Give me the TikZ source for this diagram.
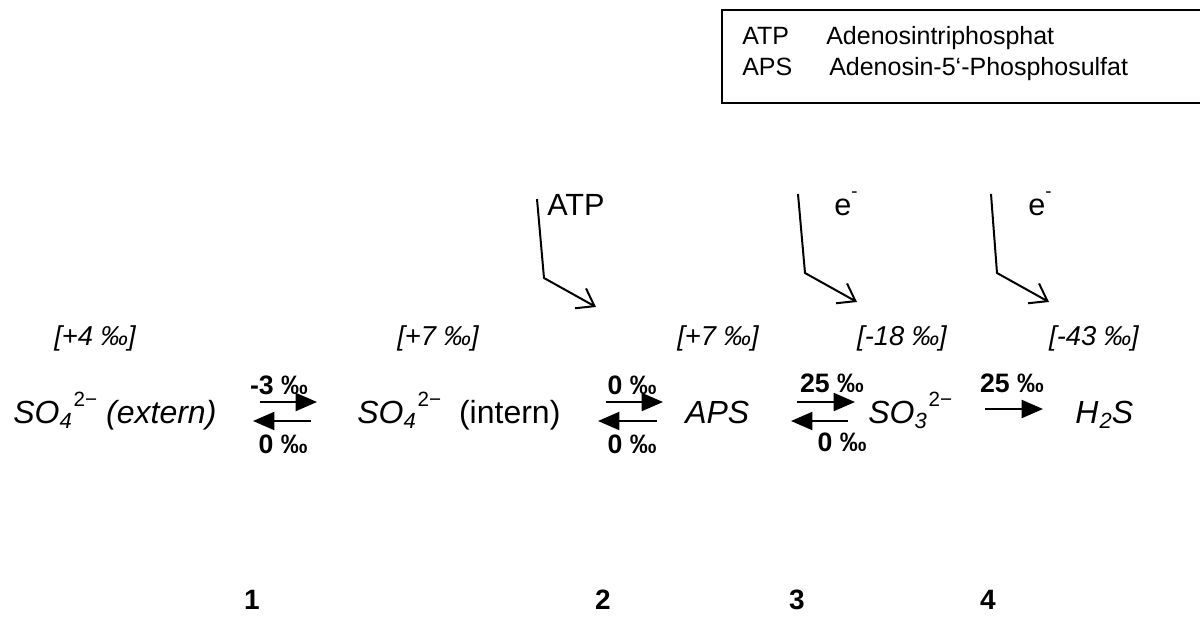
\documentclass[tikz,border=0pt]{standalone}
\usepackage{fontspec}
\setmainfont{Liberation Sans}
\usetikzlibrary{arrows.meta}
\newcommand\fsz[1]{\fontsize{#1}{#1}\selectfont}
\newcommand\chemion[3]{#1\raisebox{-3.8pt}{\fsz{16.5}#2}\hspace{1.5pt}\raisebox{12.5pt}{\fsz{15.5}\upshape #3}}
\begin{document}
\begin{tikzpicture}[x=0.75pt,y=-0.75pt,
  species/.style={anchor=base west,inner sep=0pt,font=\fsz{24}\itshape},
  iso/.style={anchor=base,inner sep=0pt,font=\fsz{20.5}\itshape},
  frac/.style={anchor=base,inner sep=0pt,font=\fsz{20}\bfseries},
  stepno/.style={anchor=base,inner sep=0pt,font=\fsz{21}\bfseries},
  cof/.style={anchor=base west,inner sep=0pt,font=\fsz{23}},
  legtext/.style={anchor=base west,inner sep=0pt,font=\fsz{18.75}},
  rxn/.style={line width=1.5pt,-{Triangle[length=16pt,width=13.5pt]}},
  feed/.style={line width=1.5pt,-{Straight Barb[length=12pt,width=17pt]}},
  legbox/.style={line width=1.5pt}]
\useasboundingbox (0,0) rectangle (1200,635);
% legend
\coordinate (lb1) at (1210,10);
\coordinate (lb2) at (722,10);
\coordinate (lb3) at (722,103);
\coordinate (lb4) at (1210,103);
\draw[legbox] (lb1) -- (lb2) -- (lb3) -- (lb4);
\node[legtext] (l1a) at (742,45) {ATP};
\node[legtext] (l1b) at (826,45) {Adenosintriphosphat};
\node[legtext] (l2a) at (742,75) {APS};
\node[legtext] (l2b) at (829,75) {Adenosin-5‘-Phosphosulfat};
% species
\node[species] (s1) at (13,423) {\chemion{SO}{4}{2−} (extern)};
\node[species] (s2) at (357,423) {\chemion{SO}{4}{2−}\upshape\ \ (intern)};
\node[species] (s3) at (685,423) {APS};
\node[species] (s4) at (868,423) {\chemion{SO}{3}{2−}};
\node[species] (s5) at (1075,423) {H\raisebox{-3.8pt}{\fsz{16.5}\hspace{1pt}2}S};
% isotope values
\node[iso] (i1) at (95,345) {[+4 ‰]};
\node[iso] (i2) at (438,345) {[+7 ‰]};
\node[iso] (i3) at (718,345) {[+7 ‰]};
\node[iso] (i4) at (902,345) {[-18 ‰]};
\node[iso] (i5) at (1094,345) {[-43 ‰]};
% reaction arrows
\coordinate (a1f0) at (260,402); \coordinate (a1f1) at (317,402);
\coordinate (a1b0) at (311,421); \coordinate (a1b1) at (253,421);
\coordinate (a2f0) at (606,402); \coordinate (a2f1) at (663,402);
\coordinate (a2b0) at (657,421); \coordinate (a2b1) at (598,421);
\coordinate (a3f0) at (797,402); \coordinate (a3f1) at (855,402);
\coordinate (a3b0) at (848,421); \coordinate (a3b1) at (791,421);
\coordinate (a4f0) at (985,409); \coordinate (a4f1) at (1043,409);
\draw[rxn] (a1f0) -- (a1f1);
\draw[rxn] (a1b0) -- (a1b1);
\draw[rxn] (a2f0) -- (a2f1);
\draw[rxn] (a2b0) -- (a2b1);
\draw[rxn] (a3f0) -- (a3f1);
\draw[rxn] (a3b0) -- (a3b1);
\draw[rxn] (a4f0) -- (a4f1);
% fractionation labels
\node[frac] (f1t) at (279,394) {-3 ‰};
\node[frac] (f1b) at (283,453) {0 ‰};
\node[frac] (f2t) at (632,394) {0 ‰};
\node[frac] (f2b) at (632,453) {0 ‰};
\node[frac] (f3t) at (832,392) {25 ‰};
\node[frac] (f3b) at (842,451) {0 ‰};
\node[frac] (f4t) at (1012,392) {25 ‰};
% cofactors
\node[cof] (atp) at (547,215) {ATP};
\node[cof] (e1) at (834,215) {e\raisebox{13pt}{\fsz{14}-}};
\node[cof] (e2) at (1028,215) {e\raisebox{13pt}{\fsz{14}-}};
\coordinate (b1a) at (537,199); \coordinate (b1b) at (544,278); \coordinate (b1c) at (596,307);
\coordinate (b2a) at (798,194); \coordinate (b2b) at (805,273); \coordinate (b2c) at (857,302);
\coordinate (b3a) at (991,194); \coordinate (b3b) at (997,273); \coordinate (b3c) at (1049,302);
\draw[feed] (b1a) -- (b1b) -- (b1c);
\draw[feed] (b2a) -- (b2b) -- (b2c);
\draw[feed] (b3a) -- (b3b) -- (b3c);
% step numbers
\node[stepno] (n1) at (252,609) {1};
\node[stepno] (n2) at (603,609) {2};
\node[stepno] (n3) at (797,609) {3};
\node[stepno] (n4) at (988,609) {4};
\end{tikzpicture}
\end{document}
